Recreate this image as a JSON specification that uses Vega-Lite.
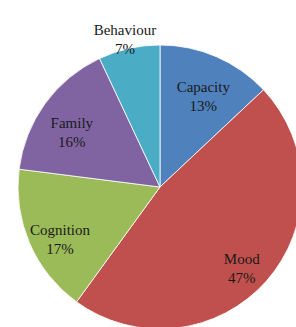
{
  "$schema": "https://vega.github.io/schema/vega-lite/v6.json",
  "width": 320,
  "height": 374,
  "autosize": "none",
  "padding": 0,
  "background": "white",
  "view": {"stroke": null},
  "data": {
    "values": [
      {"i": 1, "category": "Capacity", "value": 13},
      {"i": 2, "category": "Mood", "value": 47},
      {"i": 3, "category": "Cognition", "value": 17},
      {"i": 4, "category": "Family", "value": 16},
      {"i": 5, "category": "Behaviour", "value": 7}
    ]
  },
  "transform": [
    {"stack": "value", "groupby": [], "sort": [{"field": "i", "order": "ascending"}], "as": ["v0", "v1"]},
    {"calculate": "(datum.v0 + datum.v1) / 2", "as": "mid"},
    {"calculate": "[datum.category, datum.value + '%']", "as": "label"}
  ],
  "layer": [
    {
      "mark": {"type": "arc", "radius": 142, "stroke": "#ffffff", "strokeWidth": 0.8},
      "encoding": {
        "theta": {"field": "v0", "type": "quantitative", "scale": {"domain": [0, 100]}},
        "theta2": {"field": "v1"},
        "color": {
          "field": "category",
          "type": "nominal",
          "scale": {
            "domain": ["Capacity", "Mood", "Cognition", "Family", "Behaviour"],
            "range": ["#4F81BD", "#C0504D", "#9BBB59", "#8064A2", "#4BACC6"]
          },
          "legend": null
        }
      }
    },
    {
      "transform": [{"filter": "datum.category != 'Behaviour'"}],
      "mark": {"type": "text", "radius": 109, "font": "Liberation Serif", "fontSize": 15, "lineHeight": 19, "fill": "#1a1a1a", "align": "center", "baseline": "middle"},
      "encoding": {
        "theta": {"field": "mid", "type": "quantitative", "scale": {"domain": [0, 100]}},
        "text": {"field": "label"}
      }
    },
    {
      "transform": [{"filter": "datum.category == 'Behaviour'"}],
      "mark": {"type": "text", "radius": 161, "font": "Liberation Serif", "fontSize": 15, "lineHeight": 19, "fill": "#1a1a1a", "align": "center", "baseline": "middle"},
      "encoding": {
        "theta": {"field": "mid", "type": "quantitative", "scale": {"domain": [0, 100]}},
        "text": {"field": "label"}
      }
    }
  ]
}
